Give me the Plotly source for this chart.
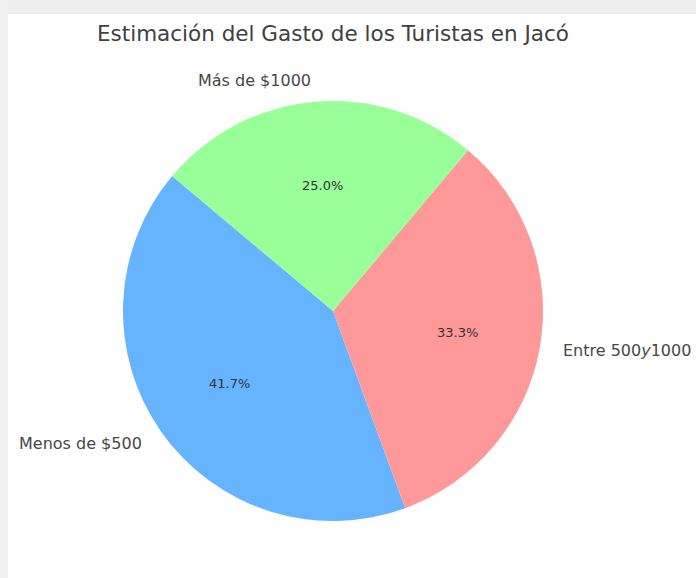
import math
import plotly.graph_objects as go

labels = ["Menos de $500", "Entre 500y1000", "Más de $1000"]
values = [41.7, 33.3, 25.0]
colors = ["#66b3ff", "#ff9999", "#99ff99"]
title = "Estimación del Gasto de los Turistas en Jacó"

W, H = 696, 578
CX, CY, R = 333, 311, 210   # pie centre and radius in px
START = 140                 # start angle (deg, from +x, ccw), matplotlib style

total = sum(values)
# plotly (ccw): first slice lies clockwise of the rotation line
rotation = ((90 - START) - 360 * values[0] / total) % 360

fig = go.Figure(go.Pie(
    labels=labels, values=values, sort=False,
    direction="counterclockwise", rotation=rotation,
    marker=dict(colors=colors, line=dict(width=0)),
    textinfo="none", hoverinfo="label+percent", showlegend=False,
    domain=dict(x=[(CX - R) / W, (CX + R) / W], y=[1 - (CY + R) / H, 1 - (CY - R) / H]),
))

ang = START
annotations = []
for lab, v in zip(labels, values):
    span = 360 * v / total
    mid = math.radians(ang + span / 2)
    ang += span
    c, s = math.cos(mid), math.sin(mid)
    lx, ly = CX + 1.1 * R * c, CY - 1.1 * R * s
    shown = lab.replace("500y1000", "500<i>y</i>1000")  # mathtext-style italic y
    annotations.append(dict(
        x=lx / W, y=1 - ly / H, xref="paper", yref="paper", text=shown, showarrow=False,
        xanchor="left" if c > 0 else "right", yanchor="middle",
        font=dict(family="DejaVu Sans", size=16, color="#474747")))
    px, py = CX + 0.6 * R * c, CY - 0.6 * R * s
    annotations.append(dict(
        x=px / W, y=1 - py / H, xref="paper", yref="paper",
        text=f"{100 * v / total:.1f}%", showarrow=False,
        xanchor="center", yanchor="middle",
        font=dict(family="DejaVu Sans", size=13, color="#333333")))

fig.update_layout(
    width=W, height=H, margin=dict(l=0, r=0, t=0, b=0),
    paper_bgcolor="white", plot_bgcolor="white",
    title=dict(text=title, x=333 / W, xanchor="center", y=1 - 33 / H, yanchor="middle",
               font=dict(family="DejaVu Sans", size=21.5, color="#404040")),
    annotations=annotations,
    shapes=[
        dict(type="rect", xref="paper", yref="paper", x0=0, x1=1, y0=1 - 14 / H, y1=1,
             fillcolor="#eeeeee", line=dict(width=0), layer="below"),
        dict(type="rect", xref="paper", yref="paper", x0=0, x1=8 / W, y0=0, y1=1,
             fillcolor="#f0f0f0", line=dict(width=0), layer="below"),
    ],
)

fig.write_html("out.html", config={"displayModeBar": False},
               post_script="document.body.style.margin='0';")
